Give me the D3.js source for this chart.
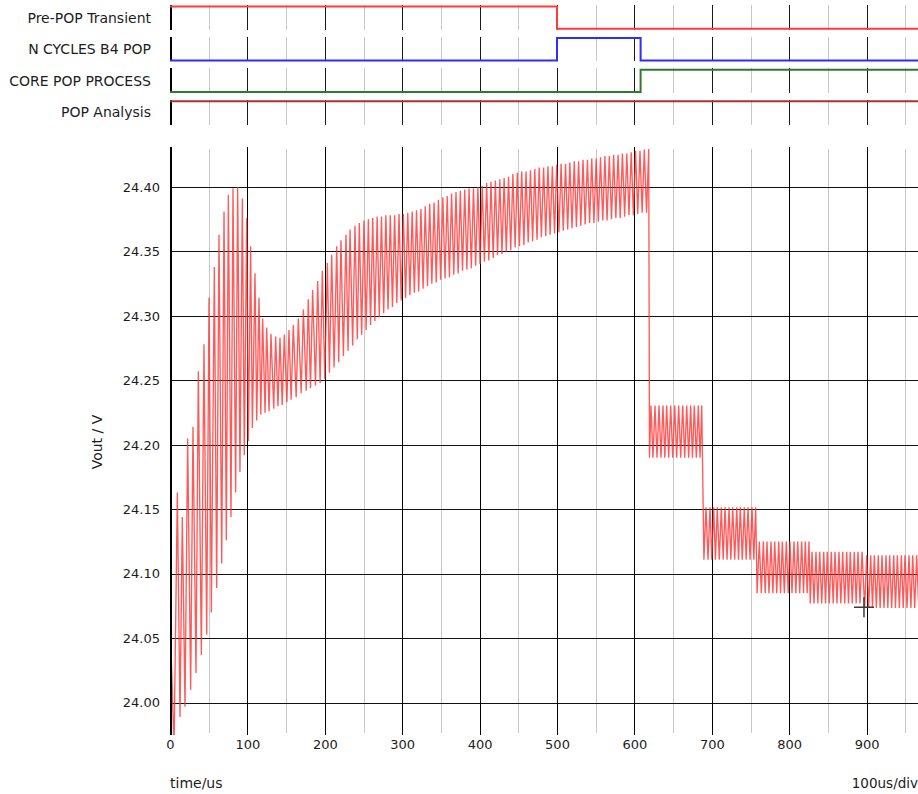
<!DOCTYPE html>
<html>
<head>
<meta charset="utf-8">
<title>POP transient - Vout</title>
<script src="https://d3js.org/d3.v7.min.js"></script>
<style>
  body { margin: 0; background: #fff; }
  text { font-family: "DejaVu Sans", Verdana, sans-serif; fill: #1c1c1c; }
</style>
</head>
<body>
<div id="chart"></div>
<script>
// ---- axis ticks ----
const xTicks = [0, 100, 200, 300, 400, 500, 600, 700, 800, 900];
const xMinor = [50, 150, 250, 350, 450, 550, 650, 750, 850, 950];
const yTicks = [24.00, 24.05, 24.10, 24.15, 24.20, 24.25, 24.30, 24.35, 24.40];
const tMax = 966.4;          // us at right edge
const vMin = 23.975, vMax = 24.431;

// ---- digital status traces ----
const sigNames = ["Pre-POP Transient", "N CYCLES B4 POP", "CORE POP PROCESS", "POP Analysis"];
const sigColors = ["#ff3a3a", "#2d2dff", "#2f7a2f", "#a33434"];
const sigEdgeT = [[0, 500], [0, 500, 608], [0, 608], [0]];
const sigLevel = [[1, 0], [0, 1, 0], [0, 1], [1]];

// ---- Vout ripple, 0 .. 618 us (peaks and troughs) ----
const peakT = [
  1.3, 9.5, 15.9, 22.8, 29.7, 36.6, 43.9, 50.4, 57.3, 63.3,
  69.8, 75.4, 81.4, 87.4, 93.5, 99.1, 104.2, 109.8, 115.0,
  119.7, 124.9, 130.5, 136.5, 142.1, 147.7, 153.7, 159.3, 165.8, 172.3,
  178.7, 184.3, 190.8, 196.8, 203.3, 208.9, 215.4, 220.9, 227.4, 232.6,
  239.0, 244.6,
  250.6, 256.3, 261.9, 267.6, 273.2, 278.9, 284.6, 290.2, 295.9, 301.5,
  307.2, 312.9, 318.5, 324.2, 329.8, 335.5, 341.2, 346.8, 352.5, 358.1,
  363.8, 369.5, 375.1, 380.8, 386.4, 392.1, 397.8, 403.4, 409.1, 414.7,
  420.4, 426.1, 431.7, 437.4, 443.0, 448.7, 454.4, 460.0, 465.7, 471.3,
  477.0, 482.7, 488.3, 494.0, 499.6, 505.3, 511.0, 516.6, 522.3, 527.9,
  533.6, 539.3, 544.9, 550.6, 556.2, 561.9, 567.6, 573.2, 578.9, 584.5,
  590.2, 595.9, 601.5, 607.2, 612.8, 618.5
];
const peakV = [
  24.043, 24.163, 24.144, 24.205, 24.214, 24.257, 24.278, 24.314, 24.338, 24.363,
  24.381, 24.394, 24.399, 24.400, 24.391, 24.376, 24.354, 24.333, 24.314,
  24.298, 24.291, 24.286, 24.284, 24.283, 24.2855, 24.289, 24.293, 24.298, 24.305,
  24.313, 24.320, 24.327, 24.335, 24.341, 24.3475, 24.354, 24.3586, 24.363, 24.367,
  24.370, 24.372,
  24.374, 24.375, 24.376, 24.377, 24.377, 24.378, 24.378, 24.378, 24.379, 24.379,
  24.380, 24.381, 24.382, 24.383, 24.385, 24.387, 24.388, 24.390, 24.392, 24.393,
  24.395, 24.396, 24.397, 24.398, 24.399, 24.399, 24.400, 24.401, 24.403, 24.404,
  24.405, 24.406, 24.407, 24.408, 24.410, 24.411, 24.412, 24.412, 24.413, 24.414,
  24.415, 24.415, 24.416, 24.416, 24.417, 24.418, 24.418, 24.419, 24.420, 24.420,
  24.421, 24.421, 24.422, 24.422, 24.423, 24.424, 24.424, 24.425, 24.425, 24.426,
  24.426, 24.427, 24.428, 24.428, 24.429, 24.4295
];
const troughT = [
  0, 5.2, 12.9, 19.4, 26.7, 33.6, 40.5, 47.4, 53.4, 60.3,
  66.8, 72.8, 78.8, 84.8, 90.4, 96.0, 101.2, 106.4, 112.0,
  117.3, 122.8, 128.0, 134.0, 139.5, 145.0, 151.0, 156.5, 163.0, 169.5,
  176.0, 181.5, 188.0, 194.0, 200.0, 206.0, 212.0, 218.0, 224.0, 230.0,
  236.0, 242.0, 247.6,
  253.4, 259.1, 264.7, 270.4, 276.1, 281.7, 287.4, 293.0, 298.7, 304.4,
  310.0, 315.7, 321.3, 327.0, 332.7, 338.3, 344.0, 349.6, 355.3, 361.0,
  366.6, 372.3, 377.9, 383.6, 389.3, 394.9, 400.6, 406.2, 411.9, 417.6,
  423.2, 428.9, 434.5, 440.2, 445.9, 451.5, 457.2, 462.8, 468.5, 474.2,
  479.8, 485.5, 491.1, 496.8, 502.5, 508.1, 513.8, 519.4, 525.1, 530.8,
  536.4, 542.1, 547.7, 553.4, 559.1, 564.7, 570.4, 576.0, 581.7, 587.4,
  593.0, 598.7, 604.3, 610.0, 615.7
];
const troughV = [
  23.965, 23.965, 23.989, 23.997, 24.010, 24.023, 24.037, 24.053, 24.070, 24.089,
  24.108, 24.126, 24.144, 24.163, 24.179, 24.192, 24.203, 24.213, 24.219,
  24.2235, 24.225, 24.226, 24.228, 24.230, 24.231, 24.233, 24.235, 24.237, 24.240,
  24.242, 24.244, 24.246, 24.248, 24.251, 24.256, 24.260, 24.264, 24.269, 24.273,
  24.277, 24.282, 24.2855,
  24.289, 24.293, 24.296, 24.299, 24.302, 24.305, 24.307, 24.310, 24.312, 24.314,
  24.316, 24.318, 24.319, 24.321, 24.323, 24.325, 24.326, 24.328, 24.329, 24.330,
  24.332, 24.333, 24.335, 24.336, 24.337, 24.339, 24.340, 24.342, 24.343, 24.345,
  24.347, 24.348, 24.350, 24.351, 24.353, 24.354, 24.355, 24.357, 24.358, 24.359,
  24.361, 24.362, 24.363, 24.364, 24.365, 24.366, 24.367, 24.368, 24.369, 24.370,
  24.371, 24.372, 24.372, 24.373, 24.374, 24.374, 24.375, 24.376, 24.376, 24.377,
  24.378, 24.378, 24.379, 24.380, 24.380
];

// ---- Vout after the pop: five ripple steps ----
const stepLo = [24.190, 24.111, 24.085, 24.077, 24.0736];
const stepHi = [24.2305, 24.1516, 24.125, 24.117, 24.1144];
const stepLowT = [
  [619.5, 624.0, 629.2, 634.3, 639.3, 644.3, 649.5, 654.6, 659.8, 665.0, 670.1, 675.0, 680.0, 684.8],
  [689.8, 695.1, 700.0, 704.7, 709.7, 714.7, 719.7, 724.6, 729.6, 734.5, 739.4, 744.4, 749.4, 754.3],
  [758.5, 764.0, 769.0, 773.9, 778.9, 783.9, 788.8, 793.7, 798.7, 803.6, 808.6, 813.6, 818.5, 823.2],
  [827.2, 832.0, 837.0, 842.0, 846.9, 851.8, 856.8, 861.7, 866.7, 871.7, 876.6, 881.5, 886.5, 891.5],
  [897.5, 902.7, 907.6, 912.6, 917.5, 922.5, 927.4, 932.4, 937.3, 942.3, 947.3, 952.2, 957.2, 962.1, 967.3]
];
const stepHighT = [
  [621.4, 626.6, 631.8, 636.9, 641.7, 646.9, 652.1, 657.2, 662.4, 667.6, 672.7, 677.4, 682.6, 687.0],
  [692.5, 697.7, 702.4, 707.1, 712.3, 717.1, 722.3, 727.0, 732.2, 736.8, 742.0, 746.8, 752.0, 756.7],
  [761.4, 766.6, 771.3, 776.5, 781.3, 786.5, 791.1, 796.3, 801.0, 806.2, 811.0, 816.1, 820.8, 825.6],
  [829.5, 834.6, 839.4, 844.6, 849.2, 854.4, 859.2, 864.3, 869.1, 874.3, 878.9, 884.1, 888.9, 894.1],
  [900.1, 905.3, 910.0, 915.1, 919.9, 925.1, 929.8, 935.0, 939.7, 944.9, 949.6, 954.8, 959.6, 964.7]
];

// cursor cross left on the plot
const cursorT = 896.6, cursorV = 24.074;

// ---------------------------------------------------------------
const W = 918, H = 794;
const margin = {top: 147, right: 0, bottom: 59, left: 170};
const width = W - margin.left - margin.right;
const height = H - margin.top - margin.bottom;

const svg = d3.select("#chart").append("svg")
    .attr("width", W)
    .attr("height", H);

const x = d3.scaleLinear().domain([0, tMax]).range([0, width]);
const y = d3.scaleLinear().domain([vMin, vMax]).range([height, 0]);
const px = v => Math.round(v) + 0.5;

// ---- digital panel ----
const dig = svg.append("g").attr("transform", "translate(" + margin.left + ",0)");
const rowTop = i => 6.5 + i * 31.6;
const rowSpan = 22.3;

sigNames.forEach((name, i) => {
  const top = rowTop(i);
  const row = dig.append("g");

  row.selectAll("line.minor")
    .data(xMinor)
    .join("line")
      .attr("class", "minor")
      .attr("x1", d => px(x(d))).attr("x2", d => px(x(d)))
      .attr("y1", top - 1.5).attr("y2", top + rowSpan + 1)
      .attr("stroke", "#c8c8c8")
      .attr("shape-rendering", "crispEdges");

  row.selectAll("line.major")
    .data(xTicks)
    .join("line")
      .attr("class", "major")
      .attr("x1", d => d === 0 ? 1 : px(x(d))).attr("x2", d => d === 0 ? 1 : px(x(d)))
      .attr("y1", top - 1.5).attr("y2", top + rowSpan + 1)
      .attr("stroke", d => d === 0 ? "#000" : "#1a1a1a")
      .attr("stroke-width", d => d === 0 ? 2 : 1)
      .attr("shape-rendering", "crispEdges");

  const pts = sigEdgeT[i].map((t, k) => [t, sigLevel[i][k]]);
  pts.push([tMax, sigLevel[i][sigLevel[i].length - 1]]);
  const lvl = d3.scaleLinear().domain([0, 1]).range([top + rowSpan, top]);

  row.append("path")
    .datum(pts)
    .attr("fill", "none")
    .attr("stroke", sigColors[i])
    .attr("stroke-width", 2)
    .attr("d", d3.line().curve(d3.curveStepAfter).x(d => x(d[0])).y(d => lvl(d[1])));

  svg.append("text")
    .attr("x", 151)
    .attr("y", top + rowSpan / 2)
    .attr("dy", "0.36em")
    .attr("text-anchor", "end")
    .attr("font-size", 14)
    .text(name);
});

// ---- main plot ----
const plot = svg.append("g")
    .attr("transform", "translate(" + margin.left + "," + margin.top + ")");

plot.append("defs").append("clipPath").attr("id", "clip")
  .append("rect").attr("width", width).attr("height", height);

plot.append("g").selectAll("line")
  .data(xMinor)
  .join("line")
    .attr("x1", d => px(x(d))).attr("x2", d => px(x(d)))
    .attr("y1", 2).attr("y2", height - 2)
    .attr("stroke", "#c8c8c8")
    .attr("shape-rendering", "crispEdges");

plot.append("g").selectAll("line")
  .data(yTicks)
  .join("line")
    .attr("x1", 0).attr("x2", width)
    .attr("y1", d => px(y(d))).attr("y2", d => px(y(d)))
    .attr("stroke", "#111")
    .attr("shape-rendering", "crispEdges");

plot.append("g").selectAll("line")
  .data(xTicks.filter(d => d > 0))
  .join("line")
    .attr("x1", d => px(x(d))).attr("x2", d => px(x(d)))
    .attr("y1", 0).attr("y2", height)
    .attr("stroke", "#000")
    .attr("shape-rendering", "crispEdges");

// waveform
const wave = [];
peakT.forEach((t, k) => wave.push([t, peakV[k]]));
troughT.forEach((t, k) => wave.push([t, troughV[k]]));
stepLowT.forEach((ts, i) => ts.forEach(t => wave.push([t, stepLo[i]])));
stepHighT.forEach((ts, i) => ts.forEach(t => wave.push([t, stepHi[i]])));
wave.sort((a, b) => a[0] - b[0]);

plot.append("path")
  .datum(wave)
  .attr("clip-path", "url(#clip)")
  .attr("fill", "none")
  .attr("stroke", "#ff2f2f")
  .attr("stroke-opacity", 0.8)
  .attr("stroke-width", 1.35)
  .attr("stroke-linejoin", "miter")
  .attr("d", d3.line().x(d => x(d[0])).y(d => y(d[1])));

// left axis line
plot.append("line")
  .attr("x1", 1).attr("x2", 1)
  .attr("y1", 0).attr("y2", height)
  .attr("stroke", "#000")
  .attr("stroke-width", 2);

// cursor cross
const cx = x(cursorT), cy = y(cursorV);
plot.append("path")
  .attr("d", "M" + (cx - 10) + "," + cy + "H" + (cx + 10) + "M" + cx + "," + (cy - 10) + "V" + (cy + 10))
  .attr("stroke", "#3a3a3a")
  .attr("stroke-width", 1.5)
  .attr("fill", "none");

// tick labels
const yAxis = plot.append("g")
    .call(d3.axisLeft(y).tickValues(yTicks).tickSize(0).tickPadding(10).tickFormat(d3.format(".2f")));
yAxis.select(".domain").remove();
yAxis.selectAll("text").attr("font-size", 13).attr("font-family", null).attr("fill", null);

const xAxis = plot.append("g")
    .attr("transform", "translate(0," + height + ")")
    .call(d3.axisBottom(x).tickValues(xTicks).tickSize(0).tickPadding(5));
xAxis.select(".domain").remove();
xAxis.selectAll("text").attr("font-size", 13).attr("font-family", null).attr("fill", null);

// axis titles
svg.append("text")
  .attr("transform", "translate(102,442) rotate(-90)")
  .attr("text-anchor", "middle")
  .attr("font-size", 14)
  .text("Vout / V");

svg.append("text")
  .attr("x", margin.left).attr("y", 788)
  .attr("font-size", 14)
  .text("time/us");

svg.append("text")
  .attr("x", W).attr("y", 788)
  .attr("text-anchor", "end")
  .attr("font-size", 13.5)
  .text("100us/div");
</script>
</body>
</html>
